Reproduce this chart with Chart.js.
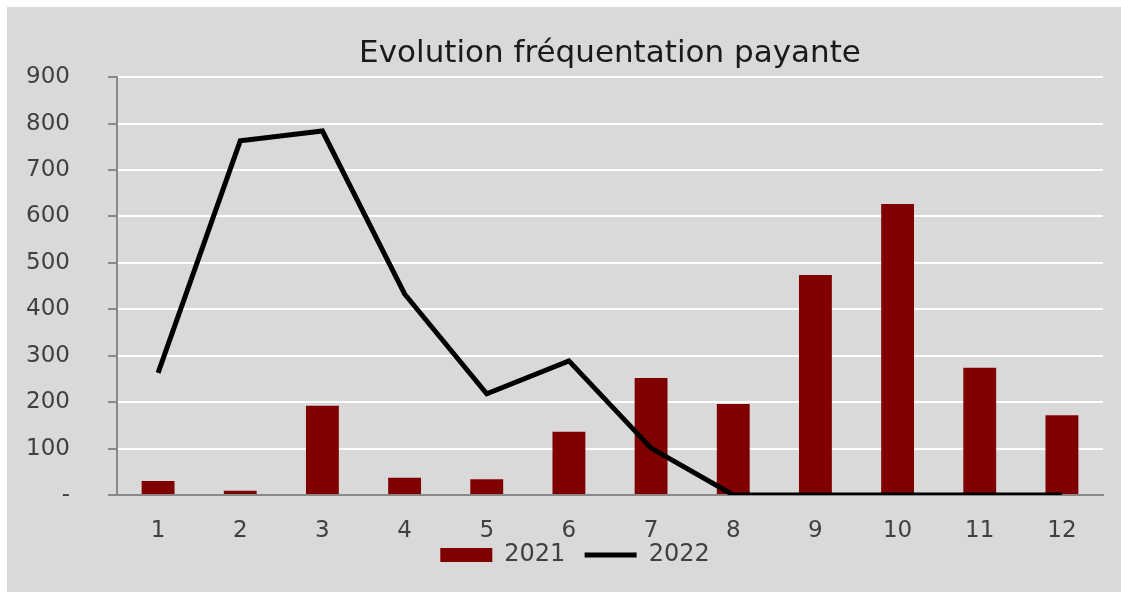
<!DOCTYPE html>
<html>
<head>
<meta charset="utf-8">
<script src="https://cdn.jsdelivr.net/npm/chart.js@4/dist/chart.umd.min.js"></script>
<style>
    html, body {
        margin: 0;
        padding: 0;
        background: #ffffff;
    }
    #wrap {
        position: absolute;
        left: 7px;
        top: 7px;
        width: 1114px;
        height: 585px;
        background: #d9d9d9;
    }
</style>
</head>
<body>
<div id="wrap"><canvas id="chart" width="1114" height="585"></canvas></div>
<script>
const months = ["1", "2", "3", "4", "5", "6", "7", "8", "9", "10", "11", "12"];
const visits2021 = [30, 9, 192, 37, 34, 136, 252, 196, 474, 627, 274, 172];
const visits2022 = [263, 763, 784, 433, 218, 289, 101, 0, 0, 0, 0, 0];
const yTicks = [0, 100, 200, 300, 400, 500, 600, 700, 800, 900];

const font = "'DejaVu Sans', sans-serif";
const textColor = "#404040";
const axisColor = "#898989";

Chart.defaults.font.family = font;
Chart.defaults.color = textColor;

// legend sits a bit right of the canvas centre in the original
const shiftLegend = {
    id: "shiftLegend",
    afterLayout(chart) {
        chart.legend.left += 20;
        chart.legend.right += 20;
    },
};

new Chart(document.getElementById("chart"), {
    data: {
        labels: months,
        datasets: [
            {
                type: "bar",
                label: "2021",
                data: visits2021,
                backgroundColor: "#800000",
                borderWidth: 0,
                categoryPercentage: 1,
                barPercentage: 0.4,
                order: 1,
            },
            {
                type: "line",
                label: "2022",
                data: visits2022,
                borderColor: "#000000",
                backgroundColor: "#000000",
                borderWidth: 5,
                pointRadius: 0,
                tension: 0,
                order: 0,
            },
        ],
    },
    options: {
        responsive: false,
        animation: false,
        layout: { padding: { left: 0, right: 18, top: 0, bottom: 15 } },
        plugins: {
            title: {
                display: true,
                fullSize: false,
                text: "Evolution fréquentation payante",
                color: "#1a1a1a",
                font: { size: 31, weight: "normal" },
                padding: { top: 28, bottom: 5 },
            },
            legend: {
                position: "bottom",
                labels: {
                    usePointStyle: true,
                    pointStyleWidth: 52,
                    boxHeight: 14,
                    padding: 4,
                    color: textColor,
                    font: { size: 24 },
                    generateLabels(chart) {
                        const items = Chart.defaults.plugins.legend.labels.generateLabels(chart);
                        items.forEach((it) => {
                            it.pointStyle = it.datasetIndex === 0 ? "rect" : "line";
                            if (it.datasetIndex === 0) {
                                it.text += "  ";
                            }
                        });
                        return items.sort((a, b) => a.datasetIndex - b.datasetIndex);
                    },
                },
            },
            tooltip: { enabled: false },
        },
        scales: {
            x: {
                grid: { display: false },
                border: { display: true, color: axisColor, width: 2 },
                ticks: { padding: 14, color: textColor, font: { size: 23 } },
                afterFit(scale) {
                    scale.height = 44;
                },
            },
            y: {
                min: 0,
                max: 900,
                afterBuildTicks(scale) {
                    scale.ticks = yTicks.map((v) => ({ value: v }));
                },
                grid: {
                    color: "#ffffff",
                    lineWidth: 2,
                    tickColor: axisColor,
                    tickLength: 9,
                },
                border: { display: true, color: axisColor, width: 2 },
                ticks: {
                    padding: 38,
                    color: textColor,
                    font: { size: 23 },
                    callback(value) {
                        return value === 0 ? "-" : value;
                    },
                },
                afterFit(scale) {
                    scale.width = 110;
                },
            },
        },
    },
    plugins: [shiftLegend],
});
</script>
</body>
</html>
